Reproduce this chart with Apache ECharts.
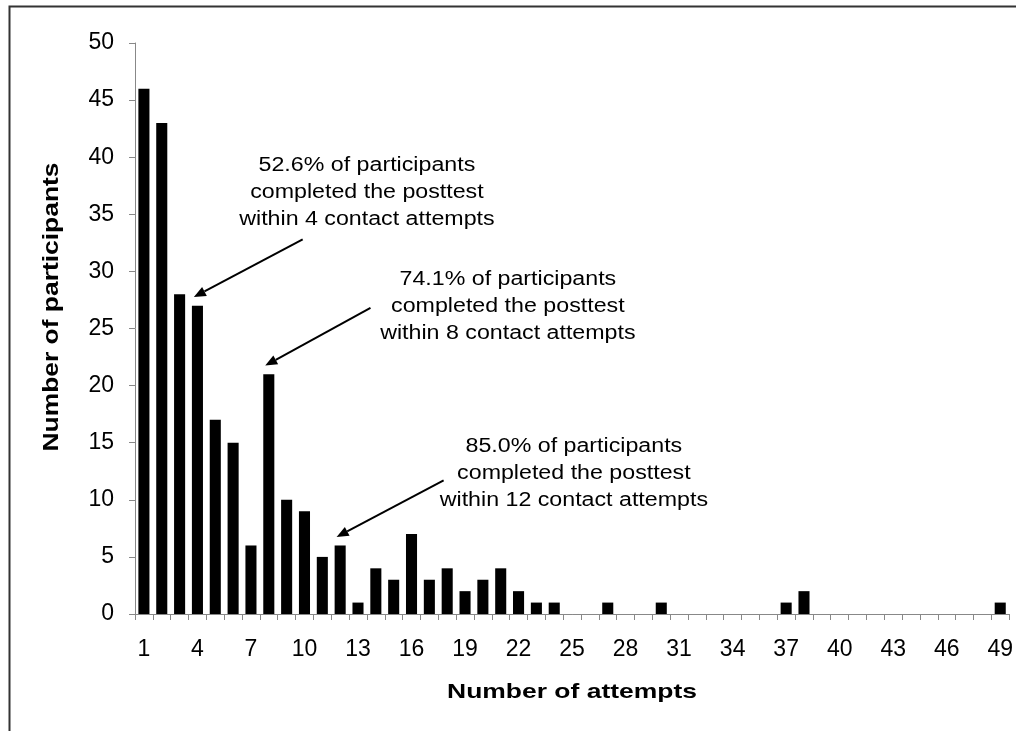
<!DOCTYPE html>
<html>
<head>
<meta charset="utf-8">
<script src="https://cdn.jsdelivr.net/npm/echarts@6/dist/echarts.min.js"></script>
<style>
  html, body { margin: 0; padding: 0; background: #fff; }
  #chart { width: 1016px; height: 731px; }
</style>
</head>
<body>
<div id="chart"></div>
<script>
// number of contact attempts (1..49)
const attempts = Array.from({ length: 49 }, (_, i) => String(i + 1))
// participants per attempt count
const participants = [
  46, 43, 28, 27, 17, 15, 6, 21, 10, 9,
  5, 6, 1, 4, 3, 7, 3, 4, 2, 3,
  4, 2, 1, 1, 0, 0, 1, 0, 0, 1,
  0, 0, 0, 0, 0, 0, 1, 2, 0, 0,
  0, 0, 0, 0, 0, 0, 0, 0, 1
]
const yTicks = [0, 5, 10, 15, 20, 25, 30, 35, 40, 45, 50]

// annotations: bar the arrow points to, arrow tail and text centre (attempt number, value)
const notes = [
  { bar: 4, tail: [9.9, 32.8], text: [13.5, 36.9], lines: ['52.6% of participants', 'completed the posttest', 'within 4 contact attempts'] },
  { bar: 8, tail: [13.7, 26.8], text: [21.4, 26.9], lines: ['74.1% of participants', 'completed the posttest', 'within 8 contact attempts'] },
  { bar: 12, tail: [17.8, 11.7], text: [25.1, 12.3], lines: ['85.0% of participants', 'completed the posttest', 'within 12 contact attempts'] }
]

const FONT = 'Liberation Sans, Arial, sans-serif'
const chart = echarts.init(document.getElementById('chart'))

const option = {
  backgroundColor: '#fff',
  animation: false,
  grid: { left: 135, right: 5, top: 43, bottom: 117 },
  xAxis: {
    type: 'category',
    data: attempts,
    axisLine: { lineStyle: { color: '#888', width: 1 } },
    axisTick: { show: true, interval: 0, length: 6, lineStyle: { color: '#888' } },
    axisLabel: { interval: 2, margin: 24, fontFamily: FONT, fontSize: 23, color: '#000' }
  },
  yAxis: {
    type: 'value',
    min: 0,
    max: 50,
    interval: 5,
    axisLine: { show: true, lineStyle: { color: '#888', width: 1 } },
    axisTick: { show: true, length: 6, lineStyle: { color: '#888' } },
    splitLine: { show: false },
    axisLabel: { margin: 21, fontFamily: FONT, fontSize: 23, color: '#000', formatter: v => (yTicks.includes(v) ? String(v) : '') }
  },
  series: [
    {
      type: 'bar',
      data: participants,
      barWidth: '62%',
      itemStyle: { color: '#000' }
    }
  ]
}
chart.setOption(option)

// pixel position for a (possibly fractional) attempt number and a value
const px = (n, v) => {
  const a = chart.convertToPixel({ gridIndex: 0 }, [0, v])
  const b = chart.convertToPixel({ gridIndex: 0 }, [1, v])
  return [a[0] + (n - 1) * (b[0] - a[0]), a[1]]
}

const graphics = [
  // outer frame, runs off the right and bottom edges
  { type: 'rect', shape: { x: 9.5, y: 6.5, width: 1100, height: 800 }, style: { fill: 'none', stroke: '#333', lineWidth: 2 }, silent: true },
  // axis titles (the original lettering is a bit wide, hence scaleX)
  {
    type: 'text', x: 572, y: 692, scaleX: 1.26,
    style: { text: 'Number of attempts', fontFamily: FONT, fontSize: 21, fontWeight: 'bold', fill: '#000', align: 'center', verticalAlign: 'middle' }
  },
  {
    type: 'text', x: 52, y: 307, rotation: Math.PI / 2, scaleX: 1.2,
    style: { text: 'Number of participants', fontFamily: FONT, fontSize: 22, fontWeight: 'bold', fill: '#000', align: 'center', verticalAlign: 'middle' }
  }
]

notes.forEach(note => {
  const tip = px(note.bar - 0.2, participants[note.bar - 1] + 0.75)
  const tail = px(note.tail[0], note.tail[1])
  const ang = Math.atan2(tip[1] - tail[1], tip[0] - tail[0])
  const hl = 12, hw = 5
  const base = [tip[0] - hl * Math.cos(ang), tip[1] - hl * Math.sin(ang)]
  graphics.push({
    type: 'line',
    shape: { x1: tail[0], y1: tail[1], x2: base[0], y2: base[1] },
    style: { stroke: '#000', lineWidth: 2 }
  })
  graphics.push({
    type: 'polygon',
    shape: {
      points: [
        tip,
        [base[0] + hw * Math.sin(ang), base[1] - hw * Math.cos(ang)],
        [base[0] - hw * Math.sin(ang), base[1] + hw * Math.cos(ang)]
      ]
    },
    style: { fill: '#000' }
  })
  const c = px(note.text[0], note.text[1])
  graphics.push({
    type: 'text',
    x: c[0],
    y: c[1],
    scaleX: 1.19,
    style: {
      text: note.lines.join('\n'),
      fontFamily: FONT,
      fontSize: 19.5,
      lineHeight: 27,
      fill: '#000',
      align: 'center',
      verticalAlign: 'middle'
    }
  })
})

chart.setOption({ graphic: graphics })
</script>
</body>
</html>
